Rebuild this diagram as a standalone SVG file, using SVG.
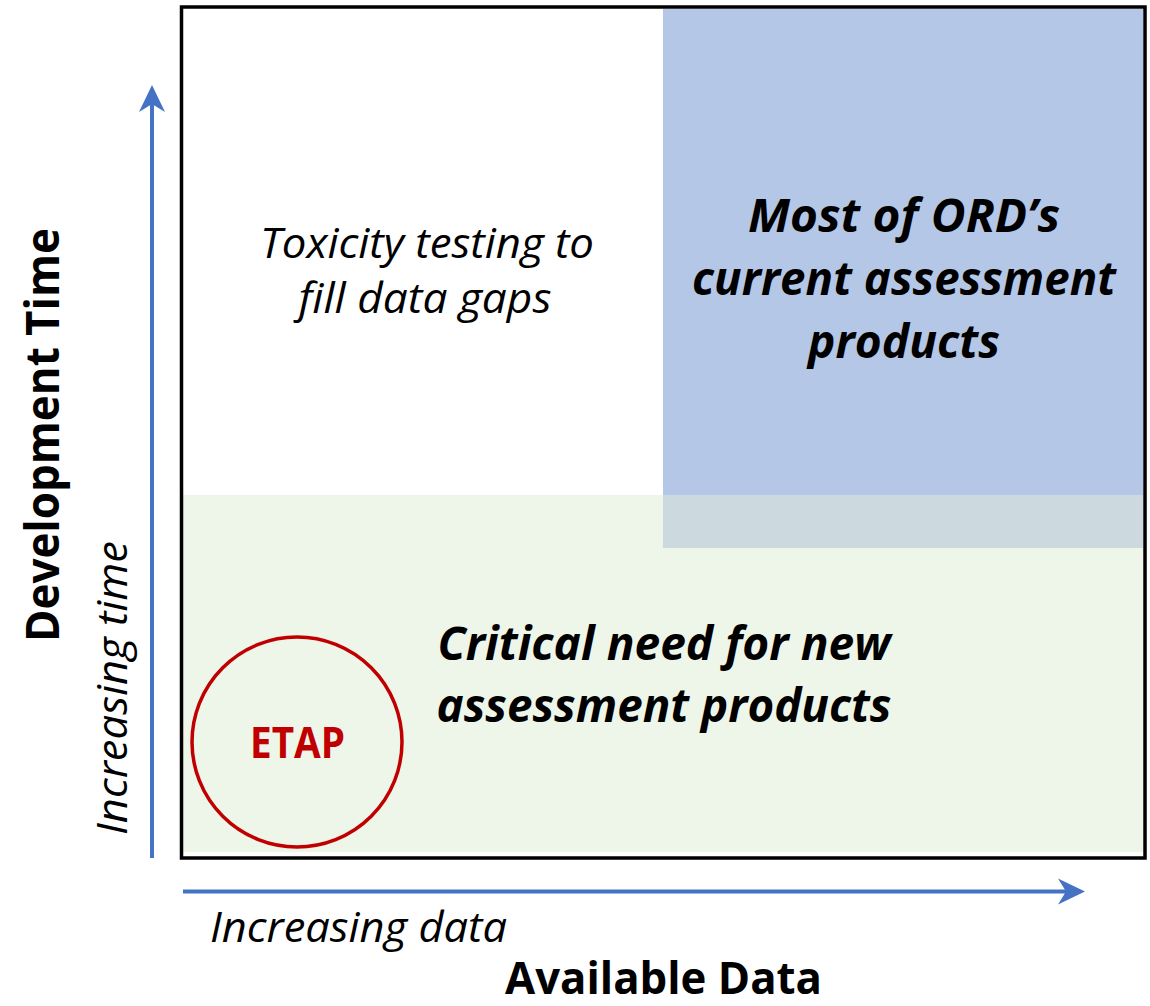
<svg xmlns="http://www.w3.org/2000/svg" width="1150" height="1006" viewBox="0 0 1150 1006">
  <style>
    text { font-family: "Open Sans", "Liberation Sans", sans-serif; fill: #000; }
    .it { font-style: italic; font-weight: normal; }
    .bi { font-style: italic; font-weight: bold; }
    .b { font-weight: bold; }
    .axis { stroke: #4472C4; stroke-width: 4; fill: none; }
  </style>
  <defs>
    <marker id="head" markerUnits="userSpaceOnUse" orient="auto" viewBox="-10 -14 30 28" refX="0" refY="0" markerWidth="30" markerHeight="28">
      <path d="M19,0 L-8,-13 L0,0 L-8,13 Z" fill="#4472C4"/>
    </marker>
  </defs>
  <rect width="1150" height="1006" fill="#FFFFFF"/>

  <g id="region-blue">
    <rect x="663" y="9" width="480" height="539" fill="#B4C7E7"/>
  </g>
  <g id="region-green">
    <rect x="183" y="495" width="960" height="357" fill="#EEF5E9"/>
    <rect x="663" y="495" width="480" height="53" fill="#CCDAE0"/>
  </g>
  <g id="frame">
    <rect x="181.5" y="7" width="963.5" height="851" fill="none" stroke="#000" stroke-width="3.5"/>
  </g>

  <g id="connectors">
    <line class="axis" x1="152" y1="858" x2="152" y2="104" marker-end="url(#head)"/>
    <line class="axis" x1="183" y1="891.5" x2="1066" y2="891.5" marker-end="url(#head)"/>
  </g>

  <g id="label-toxicity">
    <text class="it" x="427" y="258" font-size="42" text-anchor="middle" textLength="334" lengthAdjust="spacingAndGlyphs">Toxicity testing to</text>
    <text class="it" x="425" y="313" font-size="42" text-anchor="middle" textLength="253" lengthAdjust="spacingAndGlyphs">fill data gaps</text>
  </g>

  <g id="label-ord">
    <text class="bi" x="904" y="232" font-size="47" text-anchor="middle" textLength="312" lengthAdjust="spacingAndGlyphs">Most of ORD’s</text>
    <text class="bi" x="904" y="295" font-size="47" text-anchor="middle" textLength="424" lengthAdjust="spacingAndGlyphs">current assessment</text>
    <text class="bi" x="904" y="358" font-size="47" text-anchor="middle" textLength="192" lengthAdjust="spacingAndGlyphs">products</text>
  </g>

  <g id="label-critical">
    <text class="bi" x="664" y="660" font-size="47" text-anchor="middle" textLength="453" lengthAdjust="spacingAndGlyphs">Critical need for new</text>
    <text class="bi" x="664" y="722" font-size="47" text-anchor="middle" textLength="455" lengthAdjust="spacingAndGlyphs">assessment products</text>
  </g>

  <g id="etap">
    <circle cx="297" cy="742" r="105" fill="none" stroke="#C00000" stroke-width="3.5"/>
    <text class="b" x="297.5" y="758" font-size="43" text-anchor="middle" style="fill:#C00000" textLength="95" lengthAdjust="spacingAndGlyphs">ETAP</text>
  </g>

  <g id="axis-y-labels">
    <text class="b" transform="translate(59,435) rotate(-90)" x="0" y="0" font-size="47" text-anchor="middle" textLength="414" lengthAdjust="spacingAndGlyphs">Development Time</text>
    <text class="it" transform="translate(127,688) rotate(-90)" x="0" y="0" font-size="42" text-anchor="middle" textLength="294" lengthAdjust="spacingAndGlyphs">Increasing time</text>
  </g>

  <g id="axis-x-labels">
    <text class="it" x="358.5" y="942" font-size="42" text-anchor="middle" textLength="297" lengthAdjust="spacingAndGlyphs">Increasing data</text>
    <text class="b" x="663.5" y="994" font-size="45" text-anchor="middle" textLength="317" lengthAdjust="spacingAndGlyphs">Available Data</text>
  </g>
</svg>
